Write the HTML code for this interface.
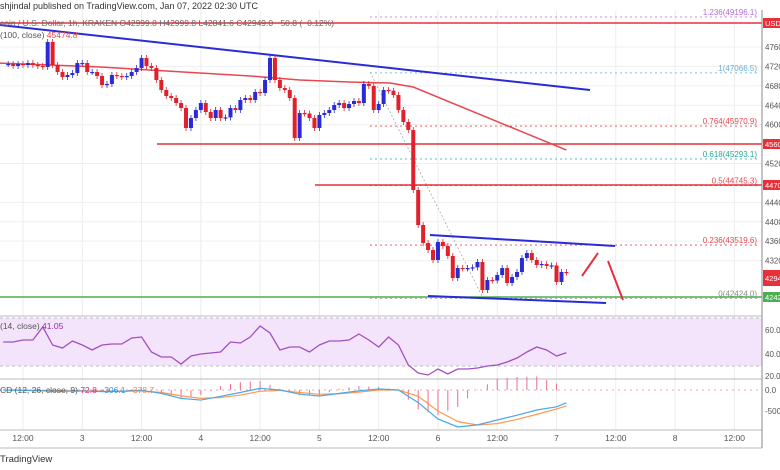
<!DOCTYPE html>
<html><head><meta charset="utf-8"><style>
html,body{margin:0;padding:0;background:#fff;width:780px;height:470px;overflow:hidden}
svg{display:block;font-family:"Liberation Sans",sans-serif}
</style></head><body>
<svg id="c" width="780" height="470" viewBox="0 0 780 470">
<rect x="0" y="0" width="780" height="470" fill="#fff"/>
<g id="grid"></g>
<g id="rsiPane"></g>
<g id="macdPane"></g>
<g id="drawings"></g>
<g id="candles"></g>
<g id="axis"></g>
<text x="0" y="9" font-size="9" fill="#333">shjindal published on TradingView.com, Jan 07, 2022 02:30 UTC</text>
<text x="0" y="26" font-size="8.5" fill="#666">coin / U.S. Dollar, 1h, KRAKEN  O42999.8  H42999.8  L42841.6  C42949.0  −50.8 (−0.12%)</text>
<text x="0" y="38" font-size="8.5" fill="#555">(100, close) <tspan fill="#e8474f">45474.8</tspan></text>
<text x="0" y="329" font-size="8.5" fill="#555">(14, close) <tspan fill="#9c27b0">41.05</tspan></text>
<text x="0" y="393" font-size="8.5" fill="#555">CD (12, 26, close, 9) <tspan fill="#e91e63">72.8</tspan> <tspan fill="#2196f3">−306.1</tspan> <tspan fill="#ff7f3f">−378.7</tspan></text>
<text x="0" y="462" font-size="9.5" fill="#333">TradingView</text>
</svg>
<script>
// ---- data ----
const candleStartHour = -3;
const closes = [47250,47209,47250,47229,47270,47229,47209,47188,47703,47229,47085,46982,47023,47064,47270,47270,47085,47085,47003,46817,46838,47023,47003,46982,47003,47085,47167,47373,47209,47167,46920,46714,46591,46549,46446,46343,45931,46137,46302,46446,46261,46137,46302,46137,46150,46343,46302,46508,46549,46508,46673,46652,46920,47373,46920,46755,46714,46549,45725,46240,46230,46137,45931,46199,46240,46302,46405,46446,46343,46426,46488,46446,46838,46797,46302,46426,46714,46700,46611,46302,46055,45890,44654,43933,43562,43418,43212,43583,43500,43295,42841,43047,43040,43047,43060,43171,42594,42800,42790,42903,43047,42738,42862,42965,43253,43356,43212,43109,43130,43089,43100,42759,42965,42949];
const maHours = [-5,5.5,15.6,25.7,35.8,46,56,66,74.3,79,110];
const maValues = [47270,47229,47188,47126,47064,47003,46920,46879,46858,46776,45478];
const rsiValues = [50,50,51.7,51.7,62.5,47.5,45,50.8,47.5,43.3,47.5,48.3,48.3,53.3,54.2,41.7,37.5,37.5,31.7,38.3,40,40.8,41.7,50,49.2,54.2,63.3,57.5,43.3,45.8,45.8,41.7,47.5,50.8,50.8,51.7,56.7,51.7,45.8,54.2,47.5,30.8,24.2,22.5,27.5,23.3,27.5,27.5,28.3,30,30.8,33.3,36.7,41.7,45.8,43.3,38.3,41.05];
const rsiStartHour = -4, rsiStep = 2;
const macdHours = [-4,0,4,8,12,16,20,24,28,32,36,40,44,48,52,56,60,64,68,72,76,80,84,88,92,96,100,104,108,110];
const macdValues = [0,-10,-20,-30,-20,-40,-30,-10,-80,-200,-240,-150,-60,40,0,-100,-143,-80,-20,24,0,-300,-690,-880,-830,-714,-600,-476,-400,-306];
const signalValues = [0,0,-10,-20,-20,-30,-30,-20,-60,-140,-200,-180,-120,-30,-10,-60,-100,-90,-50,0,0,-150,-500,-750,-833,-800,-700,-580,-450,-379];
const priceTicks = [47600,47200,46800,46400,46000,45200,44400,44000,43600,43200];
const timeTickHours = [0,12,24,36,48,60,72,84,96,108,120,132,144];
const timeTickLabels = ["12:00","3","12:00","4","12:00","5","12:00","6","12:00","7","12:00","8","12:00"];
const fibLevels = [49196.1,47066.5,45970.9,45293.1,44745.3,43519.6,42424.0];
const fibLabels = ["1.236(49196.1)","1(47066.5)","0.764(45970.9)","0.618(45293.1)","0.5(44745.3)","0.236(43519.6)","0(42424.0)"];
const fibColors = ["#b36ae2","#5fb0e0","#e8474f","#26a69a","#e8474f","#e8474f","#888"];

// ---- scales ----
const xH = h => 23 + h*4.94;
const yP = p => 47 + (47600-p)/20.6;
const yR = v => 354 - (v-40)*1.2;
const yM = v => 390 - v*0.042;
const yHist = v => 390 - v*0.13;
const NS = "http://www.w3.org/2000/svg";
function mk(parent, tag, attrs){const e=document.createElementNS(NS,tag);for(const k in attrs)e.setAttribute(k,attrs[k]);document.getElementById(parent).appendChild(e);return e;}

// grid
timeTickHours.forEach((h,i)=>{
  const l=mk('grid','line',{x1:xH(h),x2:xH(h),y1:10,y2:430,stroke:'#ececec','stroke-width':1});
  
  
  const t=mk('grid','text',{x:xH(h),y:441,'font-size':8.5,fill:'#555','text-anchor':'middle'});
  t.textContent=timeTickLabels[i];
  
  
});
priceTicks.forEach(p=>{
  const l=mk('grid','line',{x1:0,x2:762,y1:yP(p),y2:yP(p),stroke:'#efefef','stroke-width':1});
  
  
});
[316,379,430,448].forEach(y=>{
  const l=mk('grid','line',{x1:0,x2:762,y1:y,y2:y,stroke:'#bbb','stroke-width':1});
  
  
});

// RSI pane
const band=mk('rsiPane','rect',{x:0,y:yR(70),width:762,height:yR(30)-yR(70),fill:'#f4e4fb'});


[70,30].forEach(v=>{
  const l=mk('rsiPane','line',{x1:0,x2:762,y1:yR(v),y2:yR(v),stroke:'#bbb','stroke-dasharray':'3,3'});
  
  
});
const rsiPts=rsiValues.map((v,i)=>xH(rsiStartHour+i*rsiStep).toFixed(1)+','+yR(v).toFixed(1)).join(' ');
const rl=mk('rsiPane','polyline',{points:rsiPts,fill:'none',stroke:'#a050c0','stroke-width':1.3});



// MACD pane
const zl=mk('macdPane','line',{x1:0,x2:762,y1:yM(0),y2:yM(0),stroke:'#f0a0b0','stroke-dasharray':'2,4'});


for(let i=0;i<macdHours.length-1;i++){
  const h0=macdHours[i],h1=macdHours[i+1];
  const d0=macdValues[i]-signalValues[i], d1=macdValues[i+1]-signalValues[i+1];
  for(let h=h0;h<h1;h+=2){
    const t=(h-h0)/(h1-h0), d=d0+(d1-d0)*t;
    const b=mk('macdPane','line',{x1:xH(h),x2:xH(h),y1:yM(0),y2:yHist(d),stroke:'#f06b8a','stroke-width':1});
    
    
  }
}
const sl=mk('macdPane','polyline',{points:macdHours.map((h,i)=>xH(h)+','+yM(signalValues[i])).join(' '),fill:'none',stroke:'#ff9850','stroke-width':1.2});


const ml=mk('macdPane','polyline',{points:macdHours.map((h,i)=>xH(h)+','+yM(macdValues[i])).join(' '),fill:'none',stroke:'#4aa8e8','stroke-width':1.2});



// fib levels
fibLevels.forEach((p,i)=>{
  const y=yP(p)<17?17:yP(p);
  const l=mk('drawings','line',{x1:370,x2:758,y1:y,y2:y,stroke:fibColors[i],'stroke-width':0.8,'stroke-dasharray':'2,3'});
  
  
  const t=mk('drawings','text',{x:757,y:y-2,'font-size':8,fill:fibColors[i],'text-anchor':'end'});
  t.textContent=fibLabels[i];
  
  
});
const diag=mk('drawings','line',{x1:370,y1:72,x2:482,y2:296,stroke:'#aaa','stroke-width':0.8,'stroke-dasharray':'2,2'});



// horizontal levels
const hl=[[0,23,'#e8303a'],[157,144,'#e8303a'],[315,185,'#e8303a'],[0,297,'#4caf50']];
hl.forEach(a=>{
  const l=mk('drawings','line',{x1:a[0],x2:762,y1:a[1],y2:a[1],stroke:a[2],'stroke-width':1.6});
  
  
});
// trendlines
const tl=[[0,25,590,90,'#2b2bd6'],[430,235,615,246,'#2b2bd6'],[428,296,606,303,'#2b2bd6'],[582,276,598,253,'#e8303a'],[608,261,623,300,'#e8303a']];
tl.forEach(a=>{
  const l=mk('drawings','line',{x1:a[0],y1:a[1],x2:a[2],y2:a[3],stroke:a[4],'stroke-width':2});
  
  
});

// MA line
const ma=mk('drawings','polyline',{points:maHours.map((h,i)=>xH(h)+','+yP(maValues[i])).join(' '),fill:'none',stroke:'#e8474f','stroke-width':1.5});



// candles
closes.forEach((c,i)=>{
  const o=i===0?c:closes[i-1];
  const x=xH(candleStartHour+i);
  const up=c>=o, col=up?'#2b2bd6':'#e0202a';
  const top=yP(Math.max(o,c)), bot=yP(Math.min(o,c));
  const w=mk('candles','line',{x1:x,x2:x,y1:top-3,y2:bot+3,stroke:col,'stroke-width':0.8});
  
  
  const r=mk('candles','rect',{x:x-2,y:top,width:4,height:Math.max(1.2,bot-top),fill:col});
  
  
});

// price axis
const ax=mk('axis','line',{x1:762,x2:762,y1:10,y2:448,stroke:'#888','stroke-width':1});


priceTicks.forEach(p=>{
  const t=mk('axis','text',{x:765,y:yP(p)+3,'font-size':8,fill:'#555'});
  t.textContent=String(p);
  
  
});
[[23,'#e8303a','USD'],[144,'#e8303a','45600'],[185,'#e8303a','44700'],[278,'#e8303a','42949'],[297,'#4caf50','42424']].forEach(a=>{
  const h=a[0]===278?16:10;
  const r=mk('axis','rect',{x:763,y:a[0]-h/2,width:17,height:h,fill:a[1]});
  
  
  const t=mk('axis','text',{x:765,y:a[0]+3,'font-size':7.5,fill:'#fff'});
  t.textContent=a[2];
  
  
});
[[60,330],[40,354],[20,376]].forEach(a=>{
  const t=mk('axis','text',{x:765,y:a[1]+3,'font-size':8,fill:'#555'});
  t.textContent=a[0]+'.00';
  
  
});
[['0.0',390],['-500',411]].forEach(a=>{
  const t=mk('axis','text',{x:765,y:a[1]+3,'font-size':8,fill:'#555'});
  t.textContent=a[0];
  
  
});
</script>
</body></html>
